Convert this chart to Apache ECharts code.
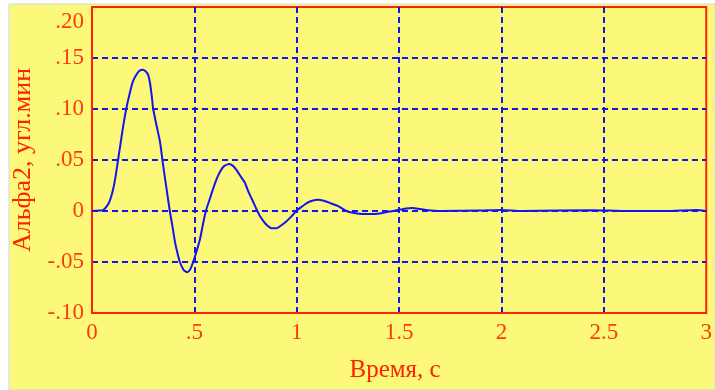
<!DOCTYPE html>
<html>
<head>
<meta charset="utf-8">
<script src="https://cdn.jsdelivr.net/npm/echarts@6/dist/echarts.min.js"></script>
<style>
html,body{margin:0;padding:0;background:#ffffff;}
#chart{width:715px;height:390px;}
</style>
</head>
<body>
<div id="chart"></div>
<script>
// Time, s
var timeValues = [0, 0.03, 0.055, 0.08, 0.092, 0.104, 0.116, 0.128, 0.140, 0.153, 0.168, 0.185, 0.200, 0.218, 0.232, 0.247, 0.262, 0.275, 0.283, 0.291, 0.299, 0.315, 0.332, 0.348, 0.364, 0.380, 0.393, 0.405, 0.417, 0.429, 0.448, 0.465, 0.480, 0.494, 0.510, 0.527, 0.541, 0.556, 0.574, 0.592, 0.608, 0.624, 0.645, 0.670, 0.690, 0.706, 0.726, 0.746, 0.766, 0.787, 0.803, 0.820, 0.845, 0.868, 0.885, 0.901, 0.925, 0.950, 0.975, 0.998, 1.023, 1.047, 1.075, 1.104, 1.132, 1.161, 1.20, 1.242, 1.28, 1.32, 1.36, 1.405, 1.44, 1.47, 1.52, 1.566, 1.60, 1.632, 1.70, 1.9, 2.0, 2.1, 2.45, 2.6, 2.8, 2.95, 3.0];
// Альфа2, угл.мин
var alphaValues = [0, 0.0005, 0.001, 0.007, 0.013, 0.022, 0.035, 0.051, 0.067, 0.084, 0.101, 0.116, 0.127, 0.134, 0.1375, 0.1385, 0.137, 0.133, 0.126, 0.114, 0.100, 0.084, 0.068, 0.044, 0.022, 0.000, -0.015, -0.030, -0.041, -0.050, -0.058, -0.060, -0.057, -0.050, -0.040, -0.028, -0.014, 0.000, 0.011, 0.022, 0.031, 0.038, 0.044, 0.046, 0.044, 0.040, 0.034, 0.028, 0.018, 0.009, 0.002, -0.005, -0.012, -0.016, -0.017, -0.017, -0.014, -0.010, -0.005, 0.000, 0.004, 0.0075, 0.010, 0.011, 0.010, 0.008, 0.005, 0.000, -0.002, -0.003, -0.003, -0.0025, -0.001, 0.000, 0.002, 0.003, 0.002, 0.001, 0.000, 0.0005, 0.001, 0.000, 0.0008, 0.000, 0.000, 0.001, 0.000];
var xTickLabels = ['0', '.5', '1', '1.5', '2', '2.5', '3'];
var yTickLabels = ['-.10', '-.05', '0', '.05', '.10', '.15', '.20'];
var xAxisTitle = 'Время, с';
var yAxisTitle = 'Альфа2, угл.мин';

var points = timeValues.map(function (t, i) { return [t, alphaValues[i]]; });

var red = '#ff2200';
var labelRed = '#ff3a10';
var blue = '#1414ee';
var font = '"Liberation Serif", "Times New Roman", serif';

var chart = echarts.init(document.getElementById('chart'), null, {renderer: 'canvas'});
chart.setOption({
  animation: false,
  backgroundColor: '#ffffff',
  graphic: [{
    type: 'rect', z: -10, silent: true,
    shape: {x: 9, y: 4, width: 706, height: 386},
    style: {fill: '#fcf97a', stroke: '#cfd8e4', lineWidth: 1}
  }],
  grid: {
    left: 92, top: 7, right: 8, bottom: 77,
    show: true, borderColor: red, borderWidth: 2, backgroundColor: 'transparent'
  },
  xAxis: {
    type: 'value', min: 0, max: 3, interval: 0.5,
    name: xAxisTitle, nameLocation: 'middle', nameGap: 45,
    nameTextStyle: {color: red, fontFamily: font, fontSize: 25, padding: [0, 8, 0, 0]},
    axisLine: {show: true, onZero: false, lineStyle: {color: red, width: 2}},
    axisTick: {show: false},
    axisLabel: {
      color: labelRed, fontFamily: font, fontSize: 23, margin: 8,
      formatter: function (v) { return xTickLabels[Math.round(v / 0.5)]; }
    },
    splitLine: {show: true, showMinLine: false, showMaxLine: false,
      lineStyle: {color: blue, width: 2, type: [6, 4]}}
  },
  yAxis: {
    type: 'value', min: -0.1, max: 0.2, interval: 0.05,
    name: yAxisTitle, nameLocation: 'middle', nameGap: 56,
    nameTextStyle: {color: red, fontFamily: font, fontSize: 26},
    axisLine: {show: true, onZero: false, lineStyle: {color: red, width: 2}},
    axisTick: {show: false},
    axisLabel: {
      color: labelRed, fontFamily: font, fontSize: 23, margin: 8,
      formatter: function (v) {
        var i = Math.round((v + 0.1) / 0.05);
        return i === yTickLabels.length - 1 ? '{top|' + yTickLabels[i] + '}' : yTickLabels[i];
      },
      rich: {top: {color: labelRed, fontFamily: font, fontSize: 23, padding: [30, 0, 0, 0]}}
    },
    splitLine: {show: true, showMinLine: false, showMaxLine: false,
      lineStyle: {color: blue, width: 2, type: [6, 4]}}
  },
  series: [{
    type: 'line', data: points, smooth: 0.2, showSymbol: false,
    lineStyle: {color: blue, width: 2}, z: 5
  }]
});
</script>
</body>
</html>
